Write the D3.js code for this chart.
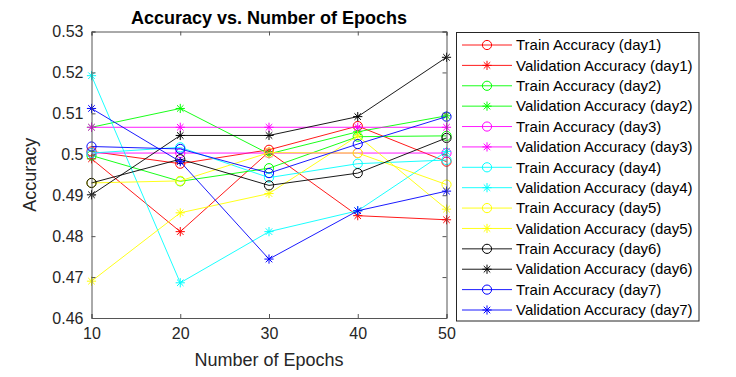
<!DOCTYPE html>
<html>
<head>
<meta charset="utf-8">
<script src="https://cdn.jsdelivr.net/npm/d3@7"></script>
<style>
  body { margin: 0; background: #fff; }
  svg { font-family: "Liberation Sans", Arial, sans-serif; }
</style>
</head>
<body>
<div id="graph"></div>
<script>
const width = 736,
  height = 377;

// data
const epochs = [10, 20, 30, 40, 50];
const days = ["day1", "day2", "day3", "day4", "day5", "day6", "day7"];
const trainAcc = [
  [0.5007, 0.4977, 0.5011, 0.5069, 0.4982],
  [0.4997, 0.4934, 0.4966, 0.5043, 0.5045],
  [0.5003, 0.5003, 0.5003, 0.5003, 0.5003],
  [0.5003, 0.5017, 0.4943, 0.4977, 0.4986],
  [0.4930, 0.4935, 0.5004, 0.5003, 0.4926],
  [0.4930, 0.4988, 0.4924, 0.4954, 0.5040],
  [0.5019, 0.5013, 0.4954, 0.5025, 0.5092]
];
const valAcc = [
  [0.4989, 0.4811, 0.5006, 0.4850, 0.4840],
  [0.5066, 0.5112, 0.5001, 0.5055, 0.5094],
  [0.5066, 0.5066, 0.5066, 0.5066, 0.5066],
  [0.5192, 0.4686, 0.4811, 0.4862, 0.5007],
  [0.4690, 0.4857, 0.4904, 0.5045, 0.4866],
  [0.4901, 0.5046, 0.5046, 0.5092, 0.5237],
  [0.5112, 0.4982, 0.4744, 0.4862, 0.4910]
];
const yTicks = [0.46, 0.47, 0.48, 0.49, 0.5, 0.51, 0.52, 0.53];
const dayColors = ["#ff0000", "#00ff00", "#ff00ff", "#00ffff", "#ffff00", "#000000", "#0000ff"];

const margin = { left: 91.5, right: 446.5, top: 31.5, bottom: 318 };
const axisColor = "#262626";

const svg = d3.select("#graph").append("svg")
  .attr("width", width)
  .attr("height", height);

const x = d3.scaleLinear().domain([10, 50]).range([margin.left, margin.right]);
const y = d3.scaleLinear().domain([0.46, 0.53]).range([margin.bottom, margin.top]);

// build series in MATLAB plot order
const series = [];
days.forEach((d, i) => {
  series.push({ name: `Train Accuracy (${d})`, marker: "o", color: dayColors[i], values: trainAcc[i] });
  series.push({ name: `Validation Accuracy (${d})`, marker: "*", color: dayColors[i], values: valAcc[i] });
});

const starPath = (s) => {
  const a = s * 0.7071;
  return `M${-s},0L${s},0M0,${-s}L0,${s}M${-a},${-a}L${a},${a}M${-a},${a}L${a},${-a}`;
};

function drawMarker(g, type, color) {
  if (type === "o") {
    g.append("circle").attr("r", 4.6).attr("fill", "none")
      .attr("stroke", color).attr("stroke-width", 1);
  } else {
    g.append("path").attr("d", starPath(4.6)).attr("fill", "none")
      .attr("stroke", color).attr("stroke-width", 1);
  }
}

// axes box
svg.append("rect")
  .attr("x", margin.left).attr("y", margin.top)
  .attr("width", margin.right - margin.left)
  .attr("height", margin.bottom - margin.top)
  .attr("fill", "#fff");

const line = d3.line().x((d, i) => x(epochs[i])).y(d => y(d));

const plot = svg.append("g");
series.forEach(s => {
  plot.append("path")
    .attr("d", line(s.values))
    .attr("fill", "none")
    .attr("stroke", s.color)
    .attr("stroke-width", 0.9);
  s.values.forEach((v, i) => {
    const g = plot.append("g").attr("transform", `translate(${x(epochs[i])},${y(v)})`);
    drawMarker(g, s.marker, s.color);
  });
});

// axes with inward ticks
const gx = svg.append("g")
  .attr("transform", `translate(0,${margin.bottom})`)
  .call(d3.axisBottom(x).tickValues(epochs).tickSize(-4).tickPadding(10).tickFormat(d3.format("d")));
const gxTop = svg.append("g")
  .attr("transform", `translate(0,${margin.top})`)
  .call(d3.axisTop(x).tickValues(epochs).tickSize(-4).tickFormat(""));
const gy = svg.append("g")
  .attr("transform", `translate(${margin.left},0)`)
  .call(d3.axisLeft(y).tickValues(yTicks).tickSize(-4).tickPadding(8).tickFormat(d => d3.format("")(+d.toFixed(2))));
const gyRight = svg.append("g")
  .attr("transform", `translate(${margin.right},0)`)
  .call(d3.axisRight(y).tickValues(yTicks).tickSize(-4).tickFormat(""));

[gx, gxTop, gy, gyRight].forEach(g => {
  g.selectAll(".domain").attr("stroke", "#555").attr("stroke-width", 1);
  g.selectAll(".tick line").attr("stroke", "#555").attr("stroke-width", 1);
  g.selectAll("text").attr("fill", axisColor).style("font-size", "16px")
    .style("font-family", "'Liberation Sans', Arial, sans-serif");
});

// title and labels
svg.append("text")
  .attr("x", (margin.left + margin.right) / 2).attr("y", 24)
  .attr("text-anchor", "middle")
  .style("font-size", "18px").style("font-weight", "bold")
  .attr("fill", "#000")
  .text("Accuracy vs. Number of Epochs");

svg.append("text")
  .attr("x", (margin.left + margin.right) / 2).attr("y", 366)
  .attr("text-anchor", "middle")
  .style("font-size", "18px")
  .attr("fill", axisColor)
  .text("Number of Epochs");

svg.append("text")
  .attr("transform", `translate(36,${(margin.top + margin.bottom) / 2}) rotate(-90)`)
  .attr("text-anchor", "middle")
  .style("font-size", "18px")
  .attr("fill", axisColor)
  .text("Accuracy");

// legend
const legend = svg.append("g");
legend.append("rect")
  .attr("x", 456.5).attr("y", 32.5)
  .attr("width", 242.5).attr("height", 288.5)
  .attr("fill", "#fff")
  .attr("stroke", axisColor).attr("stroke-width", 1);

const rowY = d3.scaleLinear().domain([0, series.length - 1]).range([45, 310]);
series.forEach((s, i) => {
  const row = legend.append("g").attr("transform", `translate(0,${rowY(i)})`);
  row.append("line")
    .attr("x1", 462).attr("x2", 512)
    .attr("stroke", s.color).attr("stroke-width", 0.9);
  const m = row.append("g").attr("transform", "translate(487,0)");
  drawMarker(m, s.marker, s.color);
  row.append("text")
    .attr("x", 516).attr("y", 0).attr("dy", "0.35em")
    .style("font-size", "15px")
    .attr("fill", "#000")
    .text(s.name);
});
</script>
</body>
</html>
